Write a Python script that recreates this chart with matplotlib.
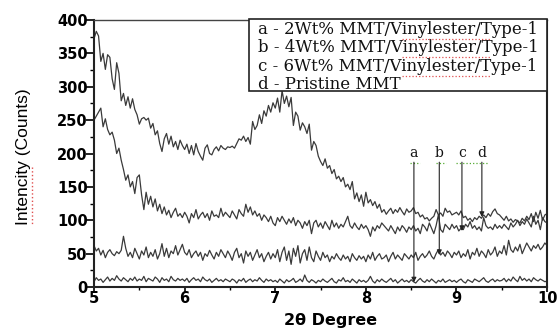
import matplotlib
matplotlib.use("Agg")
import matplotlib.pyplot as plt
from matplotlib.patches import Rectangle
from matplotlib.lines import Line2D
import numpy as np

# 2theta grid, 0.025 degree steps from 5 to 10
two_theta = np.linspace(5, 10, 201)

# d - Pristine MMT
pristine = [
    372, 383, 376, 338, 350, 326, 348, 344, 312, 296, 336, 320, 279, 290, 272, 285, 268, 282, 266, 258,
    244, 252, 254, 250, 253, 238, 245, 228, 234, 215, 203, 222, 230, 214, 226, 210, 218, 206, 220, 212,
    206, 214, 200, 212, 198, 215, 203, 196, 190, 208, 213, 200, 198, 206, 210, 204, 212, 208, 206, 210,
    209, 211, 208, 215, 222, 220, 226, 218, 224, 214, 248, 236, 242, 258, 245, 264, 256, 272, 262, 276,
    268, 283, 262, 294, 275, 286, 270, 284, 242, 262, 256, 235, 246, 240, 230, 244, 205, 218, 212, 196,
    188, 182, 192, 178, 182, 170, 176, 162, 166, 158, 164, 150, 154, 146, 158, 132, 141, 128, 138, 121,
    142, 126, 131, 122, 128, 118, 124, 112, 116, 109, 114, 118, 110, 116, 112, 119, 113, 108, 117, 112,
    114, 119, 110, 112, 105, 108, 102, 104, 99, 103, 106, 116, 108, 111, 106, 118, 112, 114, 108, 110,
    112, 108, 114, 104, 106, 100, 103, 98, 104, 101, 106, 103, 108, 104, 110, 106, 113, 117, 110, 108,
    104, 100, 106, 99, 102, 97, 101, 99, 96, 103, 99, 106, 101, 110, 98, 112, 103, 115, 100, 108,
    110,
]

# c - 6 wt% MMT
wt6 = [
    250, 256, 262, 268, 240, 252, 236, 228, 232, 220, 200, 208, 190, 176, 160, 168, 150, 158, 140, 164,
    168, 138, 116, 142, 124, 136, 120, 132, 114, 124, 110, 120, 108, 115, 104, 112, 118, 106, 110, 104,
    112, 106, 96, 110, 104, 116, 102, 108, 112, 104, 110, 100, 114, 106, 108, 104, 118, 106, 112, 108,
    104, 114, 108, 102, 116, 110, 106, 124, 112, 120, 108, 114, 106, 110, 100, 108, 104, 98, 106, 96,
    92, 104, 98, 106, 100, 94, 102, 96, 104, 92, 100, 96, 88, 98, 92, 100, 80, 96, 100, 90,
    96, 88, 98, 92, 86, 100, 90, 96, 88, 94, 90, 98, 106, 92, 88, 96, 90, 86, 94, 88,
    92, 86, 76, 90, 84, 92, 88, 96, 92, 88, 84, 92, 86, 80, 90, 84, 92, 88, 82, 90,
    86, 92, 84, 88, 80, 94, 90, 84, 96, 88, 80, 92, 108, 86, 82, 94, 90, 86, 94, 88,
    92, 84, 88, 86, 94, 90, 98, 88, 92, 86, 90, 84, 104, 92, 88, 90, 86, 94, 88, 92,
    88, 94, 90, 86, 96, 90, 94, 100, 92, 98, 94, 102, 96, 90, 106, 94, 100, 86, 104, 98,
    96,
]

# b - 4 wt% MMT
wt4 = [
    62, 54, 58, 48, 55, 44, 52, 56, 50, 47, 53, 50, 55, 76, 58, 46, 52, 44, 58, 50,
    42, 54, 48, 60, 44, 52, 46, 56, 42, 50, 65, 46, 58, 44, 54, 50, 62, 48, 56, 64,
    52, 48, 56, 44, 50, 54, 46, 52, 40, 50, 46, 55, 48, 42, 52, 46, 56, 50, 44, 54,
    48, 40, 52, 58, 44, 50, 36, 54, 46, 52, 40, 48, 56, 44, 50, 38, 46, 52, 42, 50,
    44, 56, 38, 52, 60, 40, 54, 34, 58, 46, 62, 36, 50, 56, 40, 60, 44, 38, 54, 46,
    40, 52, 44, 48, 38, 46, 42, 50, 44, 40, 48, 42, 46, 38, 50, 44, 40, 47, 42, 46,
    38, 48, 42, 52, 40, 46, 50, 42, 44, 48, 38, 46, 52, 42, 48, 44, 40, 50, 46, 42,
    48, 44, 52, 40, 46, 50, 44, 48, 54, 46, 42, 50, 56, 48, 52, 46, 54, 50, 44, 52,
    48, 54, 44, 50, 46, 56, 42, 52, 48, 58, 46, 54, 50, 44, 56, 48, 52, 60, 46, 54,
    50, 62, 48, 70, 56, 52, 60, 54, 64, 50, 58, 66, 60, 54, 62, 58, 64, 56, 60, 66,
    62,
]

# a - 2 wt% MMT
wt2 = [
    8, 14, 10, 12, 7, 11, 15, 9, 13, 10, 17, 12, 9, 14, 11, 8, 13, 10, 15, 9,
    12, 10, 16, 8, 13, 11, 9, 15, 12, 7, 14, 10, 12, 8, 16, 11, 9, 13, 10, 12,
    9, 13, 7, 11, 14, 10, 12, 8, 15, 11, 9, 12, 7, 10, 13, 9, 11, 8, 12, 10,
    8, 12, 10, 6, 11, 9, 13, 7, 10, 12, 8, 11, 9, 14, 10, 7, 12, 9, 11, 8,
    10, 7, 12, 9, 6, 11, 8, 10, 13, 7, 9, 12, 8, 18, 10, 7, 11, 9, 6, 10,
    8, 12, 9, 7, 10, 13, 8, 6, 11, 9, 14, 8, 10, 7, 12, 9, 6, 11, 8, 10,
    7, 10, 16, 9, 6, 11, 8, 12, 9, 7, 10, 13, 8, 11, 6, 9, 12, 8, 10, 7,
    11, 8, 6, 10, 13, 9, 7, 11, 8, 12, 9, 6, 10, 8, 12, 7, 9, 11, 8, 10,
    7, 10, 12, 8, 6, 11, 9, 7, 12, 10, 8, 11, 14, 9, 7, 10, 12, 8, 11, 9,
    10, 13, 8, 12, 9, 15, 11, 8, 16, 10, 13, 9, 12, 8, 14, 11, 9, 12, 10, 8,
    9,
]

legend_labels = [
    "a - 2Wt% MMT/Vinylester/Type-1",
    "b - 4Wt% MMT/Vinylester/Type-1",
    "c - 6Wt% MMT/Vinylester/Type-1",
    "d - Pristine MMT",
]

# arrow annotations: letter, x position, where the arrow ends
ann_labels = ["a", "b", "c", "d"]
ann_x = [8.53, 8.81, 9.06, 9.28]
ann_end = [7, 48, 84, 105]
ann_start = 187

fig = plt.figure(figsize=(5.58, 3.33), dpi=100)
ax = fig.add_axes([0.1685, 0.138, 0.812, 0.802])

line_col = "#3a3a3a"
for series in (wt2, wt4, wt6, pristine):
    ax.plot(two_theta, series, color=line_col, lw=0.9)

ax.set_xlim(5, 10)
ax.set_ylim(0, 400)
ax.set_xticks([5, 6, 7, 8, 9, 10])
ax.set_xticks(np.arange(5.5, 10, 1.0), minor=True)
ax.set_yticks(np.arange(0, 401, 50))
ax.set_yticks(np.arange(25, 400, 50), minor=True)

tick_font = {"family": "DejaVu Sans", "weight": "bold", "size": 10.5}
ax.tick_params(axis="y", which="major", direction="out", length=5.5, width=1.2, pad=-1)
ax.tick_params(axis="y", which="minor", direction="out", length=3, width=1.0)
ax.tick_params(axis="x", which="major", direction="out", length=3.5, width=1.2, pad=-1)
ax.tick_params(axis="x", which="minor", direction="out", length=2.5, width=1.0)
for lab in ax.get_xticklabels() + ax.get_yticklabels():
    lab.set_fontproperties(tick_font)

for side in ("left", "bottom", "right"):
    ax.spines[side].set_linewidth(1.5)
    ax.spines[side].set_color("#222222")
ax.spines["top"].set_linewidth(1.0)
ax.spines["top"].set_color("#444444")

ax.set_xlabel("2θ Degree", fontdict={"family": "DejaVu Sans", "weight": "bold", "size": 11.5})
ax.xaxis.set_label_coords(0.521, -0.097)
ax.set_ylabel("Intencity (Counts)",
              fontdict={"family": "Liberation Sans", "size": 12.5})
ax.yaxis.set_label_coords(-0.139, 0.487)

# spell-check squiggle under the y label
fig.add_artist(Line2D([0.058, 0.058], [0.498, 0.326], transform=fig.transFigure,
                      color="#e05050", lw=1.0, ls=":"))

# legend box drawn by hand
ax.add_patch(Rectangle((0.342, 0.734), 0.658, 0.27, transform=ax.transAxes,
                       facecolor="white", edgecolor="#222222", lw=1.2, zorder=5, clip_on=False))
row_y = [0.9625, 0.8951, 0.824, 0.7566]
for txt, yy in zip(legend_labels, row_y):
    ax.text(0.362, yy, txt, transform=ax.transAxes, ha="left", va="center",
            family="DejaVu Serif", fontsize=12, color="#111111", zorder=6)
for yy in row_y[:3]:
    ax.plot([0.68, 0.875], [yy - 0.032, yy - 0.032], transform=ax.transAxes,
            color="#e05050", lw=0.9, ls=":", zorder=7, clip_on=False)

# arrows with letters
for lab, xx, yend in zip(ann_labels, ann_x, ann_end):
    ax.annotate("", xy=(xx, yend), xytext=(xx, ann_start),
                arrowprops=dict(arrowstyle="-|>", color="#222222", lw=0.8,
                                mutation_scale=7, shrinkA=0, shrinkB=0))
    ax.text(xx, ann_start + 3, lab, ha="center", va="bottom",
            family="DejaVu Serif", fontsize=10, color="#111111")
for x0, x1 in [(8.49, 8.6), (8.77, 8.88), (9.0, 9.35)]:
    ax.plot([x0, x1], [186, 186], color="#55aa33", lw=0.9, ls=":")

fig.savefig("out.png", dpi=100)
